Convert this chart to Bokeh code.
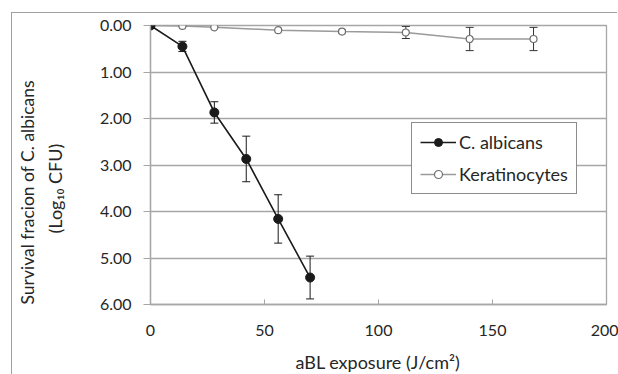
from bokeh.plotting import figure
from bokeh.models import (Range1d, Whisker, TeeHead, ColumnDataSource, Title, LinearAxis,
                          FixedTicker, PrintfTickFormatter, Legend, LegendItem)
from bokeh.embed import file_html
from bokeh.resources import INLINE

# Data
ca_x = [0, 14, 28, 42, 56, 70]
ca_y = [0.00, 0.45, 1.87, 2.87, 4.16, 5.42]
ca_err = [0.00, 0.11, 0.23, 0.49, 0.52, 0.46]

k_x = [0, 14, 28, 56, 84, 112, 140, 168]
k_y = [0.00, 0.01, 0.04, 0.10, 0.13, 0.15, 0.29, 0.29]
k_err = [0.00, 0.00, 0.00, 0.00, 0.03, 0.13, 0.25, 0.25]

x_ticks = [0, 50, 100, 150, 200]
y_ticks = [0, 1, 2, 3, 4, 5, 6]

FONT = "Lato"
GRID = "#a6a6a6"
TXT = "#262626"

p = figure(width=606, height=369, output_backend="svg", toolbar_location=None,
           x_range=Range1d(0, 200), y_range=Range1d(6, 0),
           min_border_left=138, min_border_right=12, min_border_top=12, min_border_bottom=74)
p.margin = (13, 0, 0, 12)
p.styles = {"box-shadow": "-1px -1px 0 0 #a0a0a0"}
p.background_fill_color = "white"
p.border_fill_color = "white"
p.outline_line_color = GRID
p.outline_line_width = 1.3

p.xgrid.grid_line_color = None
p.ygrid.grid_line_color = GRID
p.ygrid.grid_line_width = 1.3
p.ygrid.ticker = FixedTicker(ticks=y_ticks)

xa = p.xaxis[0]
xa.ticker = FixedTicker(ticks=x_ticks)
xa.axis_line_color = GRID
xa.axis_line_width = 1.3
xa.major_tick_line_color = GRID
xa.major_tick_in = 5
xa.major_tick_out = 0
xa.minor_tick_line_color = None
xa.major_label_standoff = 20
xa.major_label_text_font = FONT
xa.major_label_text_font_size = "16px"
xa.major_label_text_color = TXT

ya = p.yaxis[0]
ya.ticker = FixedTicker(ticks=y_ticks)
ya.formatter = PrintfTickFormatter(format="%.2f")
ya.axis_line_color = GRID
ya.axis_line_width = 1.3
ya.major_tick_line_color = GRID
ya.major_tick_in = 0
ya.major_tick_out = 7
ya.minor_tick_line_color = None
ya.major_label_standoff = 12
ya.major_label_text_font = FONT
ya.major_label_text_font_size = "16px"
ya.major_label_text_color = TXT

# invisible spacer between tick labels and axis titles
spacer = LinearAxis(ticker=FixedTicker(ticks=[3]), major_label_overrides={3: ""},
                    axis_line_color=None, major_tick_line_color=None,
                    minor_tick_line_color=None, major_tick_in=0, major_tick_out=29,
                    major_label_standoff=0)
p.add_layout(spacer, "left")


def side_title(text, offset, standoff, size="18px"):
    return Title(text=text, align="left", offset=offset, standoff=standoff,
                 text_font=FONT, text_font_size=size, text_font_style="normal",
                 text_color=TXT)


p.add_layout(side_title("(Log₁₀ CFU)", 71, 4), "left")
p.add_layout(side_title("Survival fracion of C. albicans", 0, 4, "17.5px"), "left")
p.add_layout(side_title("aBL exposure (J/cm²)", 145, 20), "below")

ca_src = ColumnDataSource(dict(x=ca_x, y=ca_y,
                               lo=[a - b for a, b in zip(ca_y, ca_err)],
                               hi=[a + b for a, b in zip(ca_y, ca_err)]))
k_src = ColumnDataSource(dict(x=k_x, y=k_y,
                              lo=[a - b for a, b in zip(k_y, k_err)],
                              hi=[a + b for a, b in zip(k_y, k_err)]))

kl = p.line("x", "y", source=k_src, line_color="#9a9a9a", line_width=1.5)
ks = p.scatter("x", "y", source=k_src, marker="circle", size=7, fill_color="white",
               line_color="#6e6e6e", line_width=1.2)
p.add_layout(Whisker(source=k_src, base="x", lower="lo", upper="hi", line_color="#333333",
                     line_width=1,
                     upper_head=TeeHead(size=8, line_color="#333333", line_width=1),
                     lower_head=TeeHead(size=8, line_color="#333333", line_width=1)))

cl = p.line("x", "y", source=ca_src, line_color="#1a1a1a", line_width=1.6)
cs = p.scatter("x", "y", source=ca_src, marker="circle", size=9, fill_color="#1a1a1a",
               line_color="#1a1a1a")
p.add_layout(Whisker(source=ca_src, base="x", lower="lo", upper="hi", line_color="#1a1a1a",
                     line_width=1,
                     upper_head=TeeHead(size=8, line_color="#1a1a1a", line_width=1),
                     lower_head=TeeHead(size=8, line_color="#1a1a1a", line_width=1)))

legend = Legend(items=[LegendItem(label="C. albicans", renderers=[cl, cs]),
                       LegendItem(label="Keratinocytes", renderers=[kl, ks])],
                location=(261, 110))
legend.border_line_color = "#1a1a1a"
legend.border_line_width = 1.2
legend.background_fill_alpha = 1
legend.label_text_font = FONT
legend.label_text_font_size = "18px"
legend.label_text_color = TXT
legend.glyph_width = 36
legend.glyph_height = 20
legend.label_height = 20
legend.label_standoff = 3
legend.spacing = 10
legend.padding = 8
legend.margin = 0
p.add_layout(legend, "center")

open("out.html", "w").write(file_html(p, INLINE))
